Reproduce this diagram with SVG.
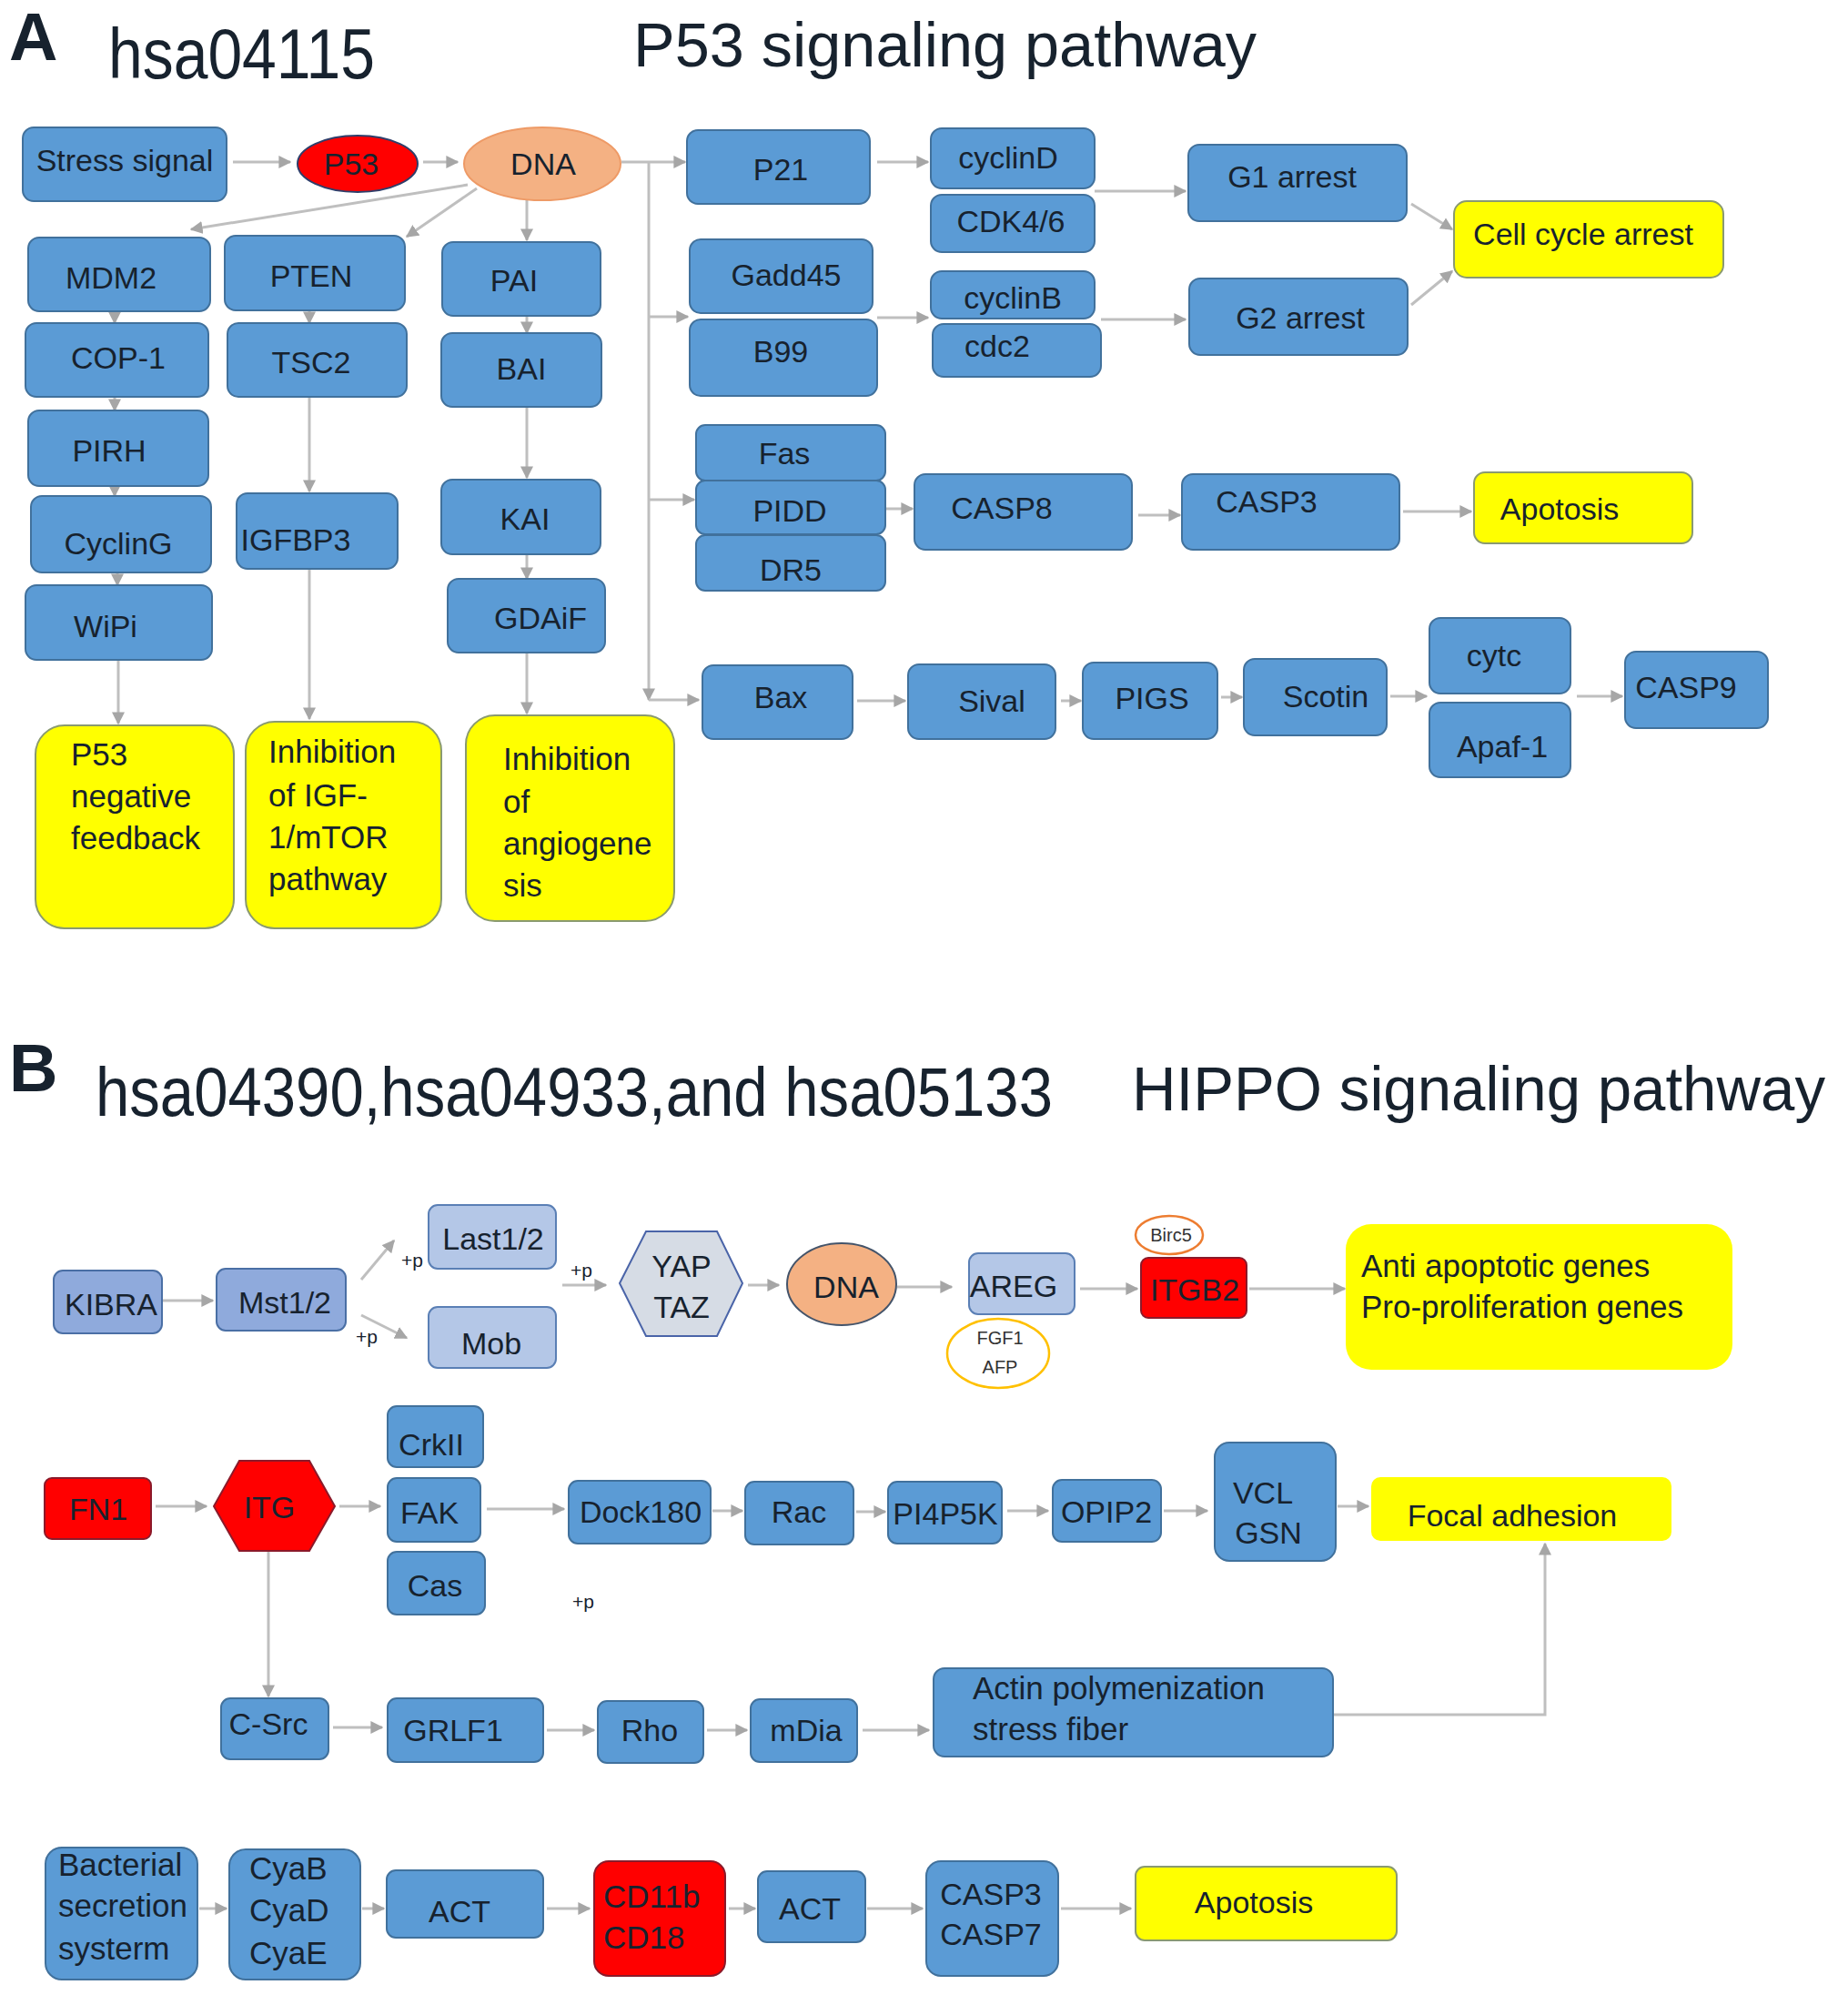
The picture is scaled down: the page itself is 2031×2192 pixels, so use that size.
<svg xmlns="http://www.w3.org/2000/svg" width="2031" height="2192" viewBox="0 0 2031 2192">
<style>
.b{fill:#5b9bd5;stroke:#41719c;stroke-width:2}
.y{fill:#ffff00;stroke:#8a9a70;stroke-width:2}
.yn{fill:#ffff00;stroke:none}
.r{fill:#ff0000;stroke:#8b1a2a;stroke-width:2}
.lb{fill:#8faadc;stroke:#4a6fa5;stroke-width:2}
.lb2{fill:#b4c7e7;stroke:#5a7fb5;stroke-width:2}
text{font-family:"Liberation Sans",Arial,sans-serif;fill:#17222e}
.t{font-size:34px;text-anchor:middle}
.tl{font-size:35px}
.s{font-size:20px;text-anchor:middle;fill:#333}
.c line,.c path{stroke:#bfbfbf;stroke-width:3;fill:none;marker-end:url(#ah)}
</style>
<defs>
<marker id="ah" viewBox="0 0 10 10" refX="9" refY="5" markerWidth="14" markerHeight="14" markerUnits="userSpaceOnUse" orient="auto">
<path d="M0,0 L10,5 L0,10 z" fill="#a6a6a6"/>
</marker>
</defs>
<rect width="2031" height="2192" fill="#ffffff"/>

<!-- Titles -->
<text x="10" y="66" font-size="74" font-weight="bold" fill="#000">A</text>
<text x="119" y="86" font-size="78" textLength="293" lengthAdjust="spacingAndGlyphs" fill="#000">hsa04115</text>
<text x="696" y="73" font-size="68" textLength="685" lengthAdjust="spacingAndGlyphs" fill="#111">P53 signaling pathway</text>
<text x="10" y="1199" font-size="74" font-weight="bold" fill="#000">B</text>
<text x="105" y="1226" font-size="76" textLength="1052" lengthAdjust="spacingAndGlyphs" fill="#000">hsa04390,hsa04933,and hsa05133</text>
<text x="1244" y="1220" font-size="68" textLength="762" lengthAdjust="spacingAndGlyphs" fill="#111">HIPPO signaling pathway</text>

<!-- Connectors -->
<g id="connectors" class="c">
<line x1="256" y1="178" x2="319" y2="178"/>
<line x1="465" y1="178" x2="503" y2="178"/>
<line x1="514" y1="203" x2="210" y2="252"/>
<line x1="524" y1="207" x2="447" y2="260"/>
<line x1="579" y1="220" x2="579" y2="264"/>
<line x1="126" y1="342" x2="126" y2="355"/>
<line x1="126" y1="436" x2="126" y2="451"/>
<line x1="126" y1="534" x2="126" y2="545"/>
<line x1="129" y1="629" x2="129" y2="643"/>
<line x1="130" y1="725" x2="130" y2="795"/>
<line x1="340" y1="341" x2="340" y2="355"/>
<line x1="340" y1="436" x2="340" y2="540"/>
<line x1="340" y1="625" x2="340" y2="790"/>
<line x1="579" y1="347" x2="579" y2="366"/>
<line x1="579" y1="447" x2="579" y2="525"/>
<line x1="579" y1="609" x2="579" y2="636"/>
<line x1="579" y1="717" x2="579" y2="784"/>
<line x1="683" y1="178" x2="753" y2="178"/>
<line x1="713" y1="178" x2="713" y2="769"/>
<line x1="713" y1="348" x2="756" y2="348"/>
<line x1="713" y1="549" x2="763" y2="549"/>
<line x1="713" y1="769" x2="768" y2="769"/>
<line x1="964" y1="178" x2="1020" y2="178"/>
<line x1="1203" y1="210" x2="1303" y2="210"/>
<line x1="1551" y1="224" x2="1596" y2="252"/>
<line x1="1551" y1="335" x2="1596" y2="298"/>
<line x1="964" y1="349" x2="1020" y2="349"/>
<line x1="1210" y1="351" x2="1303" y2="351"/>
<line x1="974" y1="559" x2="1003" y2="559"/>
<line x1="1251" y1="566" x2="1297" y2="566"/>
<line x1="1542" y1="562" x2="1617" y2="562"/>
<line x1="942" y1="770" x2="995" y2="770"/>
<line x1="1166" y1="770" x2="1188" y2="770"/>
<line x1="1342" y1="766" x2="1365" y2="766"/>
<line x1="1528" y1="765" x2="1568" y2="765"/>
<line x1="1733" y1="765" x2="1783" y2="765"/>

<line x1="179" y1="1429" x2="234" y2="1429"/>
<line x1="397" y1="1406" x2="433" y2="1363"/>
<line x1="397" y1="1445" x2="447" y2="1470"/>
<line x1="618" y1="1412" x2="666" y2="1412"/>
<line x1="822" y1="1412" x2="856" y2="1412"/>
<line x1="986" y1="1414" x2="1046" y2="1414"/>
<line x1="1187" y1="1416" x2="1250" y2="1416"/>
<line x1="1373" y1="1416" x2="1478" y2="1416"/>

<line x1="171" y1="1655" x2="227" y2="1655"/>
<line x1="373" y1="1655" x2="418" y2="1655"/>
<line x1="535" y1="1658" x2="620" y2="1658"/>
<line x1="783" y1="1660" x2="816" y2="1660"/>
<line x1="941" y1="1661" x2="973" y2="1661"/>
<line x1="1107" y1="1660" x2="1152" y2="1660"/>
<line x1="1279" y1="1660" x2="1327" y2="1660"/>
<line x1="1470" y1="1655" x2="1504" y2="1655"/>
<line x1="295" y1="1705" x2="295" y2="1864"/>
<line x1="366" y1="1898" x2="420" y2="1898"/>
<line x1="601" y1="1901" x2="653" y2="1901"/>
<line x1="777" y1="1901" x2="821" y2="1901"/>
<line x1="948" y1="1901" x2="1021" y2="1901"/>
<path d="M1465,1884 L1698,1884 L1698,1696"/>

<line x1="219" y1="2097" x2="249" y2="2097"/>
<line x1="398" y1="2097" x2="422" y2="2097"/>
<line x1="601" y1="2097" x2="648" y2="2097"/>
<line x1="801" y1="2097" x2="830" y2="2097"/>
<line x1="953" y1="2097" x2="1014" y2="2097"/>
<line x1="1166" y1="2097" x2="1243" y2="2097"/>
</g>

<!-- Panel A nodes -->
<g id="stress"><rect class="b" x="25" y="140" width="224" height="81" rx="12"/><text class="t" x="137" y="188">Stress signal</text></g>
<g id="p53"><ellipse cx="393" cy="180" rx="66" ry="31" fill="#ff0000" stroke="#2f3e6a" stroke-width="2"/><text class="t" x="386" y="192" fill="#3a0000">P53</text></g>
<g id="dna_a"><ellipse cx="596" cy="180" rx="86" ry="40" fill="#f4b183" stroke="#ee9a66" stroke-width="2"/><text class="t" x="597" y="192">DNA</text></g>
<g id="mdm2"><rect class="b" x="31" y="261" width="200" height="81" rx="12"/><text class="t" x="122" y="317">MDM2</text></g>
<g id="pten"><rect class="b" x="247" y="259" width="198" height="82" rx="12"/><text class="t" x="342" y="315">PTEN</text></g>
<g id="pai"><rect class="b" x="486" y="266" width="174" height="81" rx="12"/><text class="t" x="565" y="320">PAI</text></g>
<g id="cop1"><rect class="b" x="28" y="355" width="201" height="81" rx="12"/><text class="t" x="130" y="405">COP-1</text></g>
<g id="tsc2"><rect class="b" x="250" y="355" width="197" height="81" rx="12"/><text class="t" x="342" y="410">TSC2</text></g>
<g id="bai"><rect class="b" x="485" y="366" width="176" height="81" rx="12"/><text class="t" x="573" y="417">BAI</text></g>
<g id="pirh"><rect class="b" x="31" y="451" width="198" height="83" rx="12"/><text class="t" x="120" y="507">PIRH</text></g>
<g id="cycling"><rect class="b" x="34" y="545" width="198" height="84" rx="12"/><text class="t" x="130" y="609">CyclinG</text></g>
<g id="wipi"><rect class="b" x="28" y="643" width="205" height="82" rx="12"/><text class="t" x="116" y="700">WiPi</text></g>
<g id="igfbp3"><rect class="b" x="260" y="542" width="177" height="83" rx="12"/><text class="t" x="325" y="605" font-size="32">IGFBP3</text></g>
<g id="kai"><rect class="b" x="485" y="527" width="175" height="82" rx="12"/><text class="t" x="577" y="582">KAI</text></g>
<g id="gdaif"><rect class="b" x="492" y="636" width="173" height="81" rx="12"/><text class="t" x="594" y="691">GDAiF</text></g>

<g id="neg"><rect class="y" x="39" y="797" width="218" height="223" rx="32"/>
<text class="tl" x="78" y="841">P53</text><text class="tl" x="78" y="887">negative</text><text class="tl" x="78" y="933">feedback</text></g>
<g id="igf"><rect class="y" x="270" y="793" width="215" height="227" rx="32"/>
<text class="tl" x="295" y="838">Inhibition</text><text class="tl" x="295" y="886">of IGF-</text><text class="tl" x="295" y="932">1/mTOR</text><text class="tl" x="295" y="978">pathway</text></g>
<g id="angio"><rect class="y" x="512" y="786" width="229" height="226" rx="32"/>
<text class="tl" x="553" y="846">Inhibition</text><text class="tl" x="553" y="893">of</text><text class="tl" x="553" y="939">angiogene</text><text class="tl" x="553" y="985">sis</text></g>

<g id="p21"><rect class="b" x="755" y="143" width="201" height="81" rx="12"/><text class="t" x="858" y="198">P21</text></g>
<g id="cyclind"><rect class="b" x="1023" y="141" width="180" height="66" rx="12"/><text class="t" x="1108" y="185">cyclinD</text></g>
<g id="cdk46"><rect class="b" x="1023" y="214" width="180" height="63" rx="12"/><text class="t" x="1111" y="255">CDK4/6</text></g>
<g id="g1"><rect class="b" x="1306" y="159" width="240" height="84" rx="12"/><text class="t" x="1420" y="206">G1 arrest</text></g>
<g id="cca"><rect class="y" x="1598" y="221" width="296" height="84" rx="14"/><text class="t" x="1740" y="269">Cell cycle arrest</text></g>
<g id="gadd45"><rect class="b" x="758" y="263" width="201" height="81" rx="12"/><text class="t" x="864" y="314">Gadd45</text></g>
<g id="b99"><rect class="b" x="758" y="351" width="206" height="84" rx="12"/><text class="t" x="858" y="398">B99</text></g>
<g id="cyclinb"><rect class="b" x="1023" y="298" width="180" height="52" rx="12"/><text class="t" x="1113" y="339">cyclinB</text></g>
<g id="cdc2"><rect class="b" x="1025" y="356" width="185" height="58" rx="12"/><text class="t" x="1096" y="392">cdc2</text></g>
<g id="g2"><rect class="b" x="1307" y="306" width="240" height="84" rx="12"/><text class="t" x="1429" y="361">G2 arrest</text></g>
<g id="fas"><rect class="b" x="765" y="467" width="208" height="61" rx="10"/><text class="t" x="862" y="510">Fas</text></g>
<g id="pidd"><rect class="b" x="765" y="528" width="208" height="59" rx="10"/><text class="t" x="868" y="573">PIDD</text></g>
<g id="dr5"><rect class="b" x="765" y="588" width="208" height="61" rx="10"/><text class="t" x="869" y="638">DR5</text></g>
<g id="casp8"><rect class="b" x="1005" y="521" width="239" height="83" rx="12"/><text class="t" x="1101" y="570">CASP8</text></g>
<g id="casp3a"><rect class="b" x="1299" y="521" width="239" height="83" rx="12"/><text class="t" x="1392" y="563">CASP3</text></g>
<g id="apo_a"><rect class="y" x="1620" y="519" width="240" height="78" rx="12"/><text class="t" x="1714" y="571">Apotosis</text></g>
<g id="bax"><rect class="b" x="772" y="731" width="165" height="81" rx="12"/><text class="t" x="858" y="778">Bax</text></g>
<g id="sival"><rect class="b" x="998" y="730" width="162" height="82" rx="12"/><text class="t" x="1090" y="782">Sival</text></g>
<g id="pigs"><rect class="b" x="1190" y="728" width="148" height="84" rx="12"/><text class="t" x="1266" y="779">PIGS</text></g>
<g id="scotin"><rect class="b" x="1367" y="724" width="157" height="84" rx="12"/><text class="t" x="1457" y="777">Scotin</text></g>
<g id="cytc"><rect class="b" x="1571" y="679" width="155" height="83" rx="12"/><text class="t" x="1642" y="732">cytc</text></g>
<g id="apaf1"><rect class="b" x="1571" y="772" width="155" height="82" rx="12"/><text class="t" x="1651" y="832">Apaf-1</text></g>
<g id="casp9"><rect class="b" x="1786" y="716" width="157" height="84" rx="12"/><text class="t" x="1853" y="767">CASP9</text></g>

<!-- Panel B nodes -->
<g id="kibra"><rect class="lb" x="59" y="1396" width="119" height="69" rx="10"/><text class="t" x="122" y="1445">KIBRA</text></g>
<g id="mst"><rect class="lb" x="238" y="1394" width="142" height="68" rx="10"/><text class="t" x="313" y="1443">Mst1/2</text></g>
<g id="last"><rect class="lb2" x="471" y="1324" width="140" height="70" rx="10"/><text class="t" x="542" y="1373">Last1/2</text></g>
<g id="mob"><rect class="lb2" x="471" y="1436" width="140" height="67" rx="10"/><text class="t" x="540" y="1488">Mob</text></g>
<text x="441" y="1392" font-size="21" fill="#333">+p</text>
<text x="391" y="1476" font-size="21" fill="#333">+p</text>
<text x="627" y="1403" font-size="21" fill="#333">+p</text>
<g id="yap"><polygon points="681,1410 710,1353 788,1353 816,1410 788,1468 710,1468" fill="#d6dce5" stroke="#4a64a8" stroke-width="2"/><text class="t" x="749" y="1403">YAP</text><text class="t" x="749" y="1448">TAZ</text></g>
<g id="dna_b"><ellipse cx="925" cy="1411" rx="60" ry="45" fill="#f4b183" stroke="#44546a" stroke-width="2"/><text class="t" x="930" y="1426">DNA</text></g>
<g id="areg"><rect class="lb2" x="1065" y="1377" width="116" height="67" rx="10"/><text class="t" x="1114" y="1425">AREG</text></g>
<g id="fgf1"><ellipse cx="1097" cy="1487" rx="56" ry="38" fill="#ffffff" stroke="#ffc000" stroke-width="2.5"/><text class="s" x="1099" y="1477">FGF1</text><text class="s" x="1099" y="1509">AFP</text></g>
<g id="itgb2"><rect class="r" x="1254" y="1382" width="116" height="66" rx="8"/><text class="t" x="1313" y="1429" fill="#3a0000">ITGB2</text></g>
<g id="birc5"><ellipse cx="1285" cy="1357" rx="37" ry="21" fill="#ffffff" stroke="#ed7d31" stroke-width="2.5"/><text class="s" x="1287" y="1364" font-size="19">Birc5</text></g>
<g id="anti"><rect class="yn" x="1479" y="1345" width="425" height="160" rx="28"/><text class="tl" x="1496" y="1403">Anti apoptotic genes</text><text class="tl" x="1496" y="1448">Pro-proliferation genes</text></g>

<g id="fn1"><rect class="r" x="49" y="1624" width="117" height="67" rx="8"/><text class="t" x="108" y="1670" fill="#3a0000">FN1</text></g>
<g id="itg"><polygon points="235,1655 263,1605 340,1605 368,1655 340,1704 263,1704" fill="#ff0000" stroke="#8b1a2a" stroke-width="2"/><text class="t" x="296" y="1668" fill="#3a0000">ITG</text></g>
<g id="crkii"><rect class="b" x="426" y="1545" width="105" height="67" rx="10"/><text class="t" x="474" y="1599">CrkII</text></g>
<g id="fak"><rect class="b" x="426" y="1624" width="102" height="70" rx="10"/><text class="t" x="472" y="1674">FAK</text></g>
<g id="cas"><rect class="b" x="426" y="1705" width="107" height="69" rx="10"/><text class="t" x="478" y="1754">Cas</text></g>
<g id="dock"><rect class="b" x="625" y="1627" width="156" height="69" rx="10"/><text class="t" x="704" y="1673">Dock180</text></g>
<g id="rac"><rect class="b" x="819" y="1628" width="119" height="69" rx="10"/><text class="t" x="878" y="1673">Rac</text></g>
<g id="pi4p5k"><rect class="b" x="976" y="1628" width="125" height="68" rx="10"/><text class="t" x="1039" y="1675">PI4P5K</text></g>
<g id="opip2"><rect class="b" x="1157" y="1626" width="119" height="68" rx="10"/><text class="t" x="1216" y="1673">OPIP2</text></g>
<g id="vcl"><rect class="b" x="1335" y="1585" width="133" height="130" rx="16"/><text class="t" x="1388" y="1652">VCL</text><text class="t" x="1394" y="1696">GSN</text></g>
<g id="focal"><rect class="yn" x="1507" y="1623" width="330" height="70" rx="10"/><text class="t" x="1662" y="1677">Focal adhesion</text></g>
<text x="629" y="1767" font-size="21" fill="#333">+p</text>
<g id="csrc"><rect class="b" x="243" y="1866" width="118" height="67" rx="10"/><text class="t" x="295" y="1906">C-Src</text></g>
<g id="grlf1"><rect class="b" x="426" y="1866" width="171" height="70" rx="10"/><text class="t" x="498" y="1913">GRLF1</text></g>
<g id="rho"><rect class="b" x="657" y="1869" width="116" height="68" rx="10"/><text class="t" x="714" y="1913">Rho</text></g>
<g id="mdia"><rect class="b" x="825" y="1867" width="117" height="69" rx="10"/><text class="t" x="886" y="1913">mDia</text></g>
<g id="actin"><rect class="b" x="1026" y="1833" width="439" height="97" rx="12"/><text class="tl" x="1069" y="1867">Actin polymenization</text><text class="tl" x="1069" y="1912">stress fiber</text></g>

<g id="bact"><rect class="b" x="50" y="2030" width="167" height="145" rx="18"/><text class="tl" x="64" y="2061">Bacterial</text><text class="tl" x="64" y="2106">secretion</text><text class="tl" x="64" y="2153">systerm</text></g>
<g id="cya"><rect class="b" x="252" y="2032" width="144" height="143" rx="18"/><text class="tl" x="274" y="2065">CyaB</text><text class="tl" x="274" y="2111">CyaD</text><text class="tl" x="274" y="2158">CyaE</text></g>
<g id="act1"><rect class="b" x="425" y="2055" width="172" height="74" rx="10"/><text class="t" x="505" y="2112">ACT</text></g>
<g id="cd11b"><rect class="r" x="653" y="2045" width="144" height="126" rx="16"/><text class="tl" x="663" y="2096" fill="#3a0000">CD11b</text><text class="tl" x="663" y="2141" fill="#3a0000">CD18</text></g>
<g id="act2"><rect class="b" x="833" y="2056" width="118" height="78" rx="10"/><text class="t" x="890" y="2109">ACT</text></g>
<g id="casp37"><rect class="b" x="1018" y="2045" width="145" height="126" rx="16"/><text class="t" x="1089" y="2093">CASP3</text><text class="t" x="1089" y="2137">CASP7</text></g>
<g id="apo_b"><rect class="y" x="1248" y="2051" width="287" height="81" rx="10"/><text class="t" x="1378" y="2102">Apotosis</text></g>
</svg>
